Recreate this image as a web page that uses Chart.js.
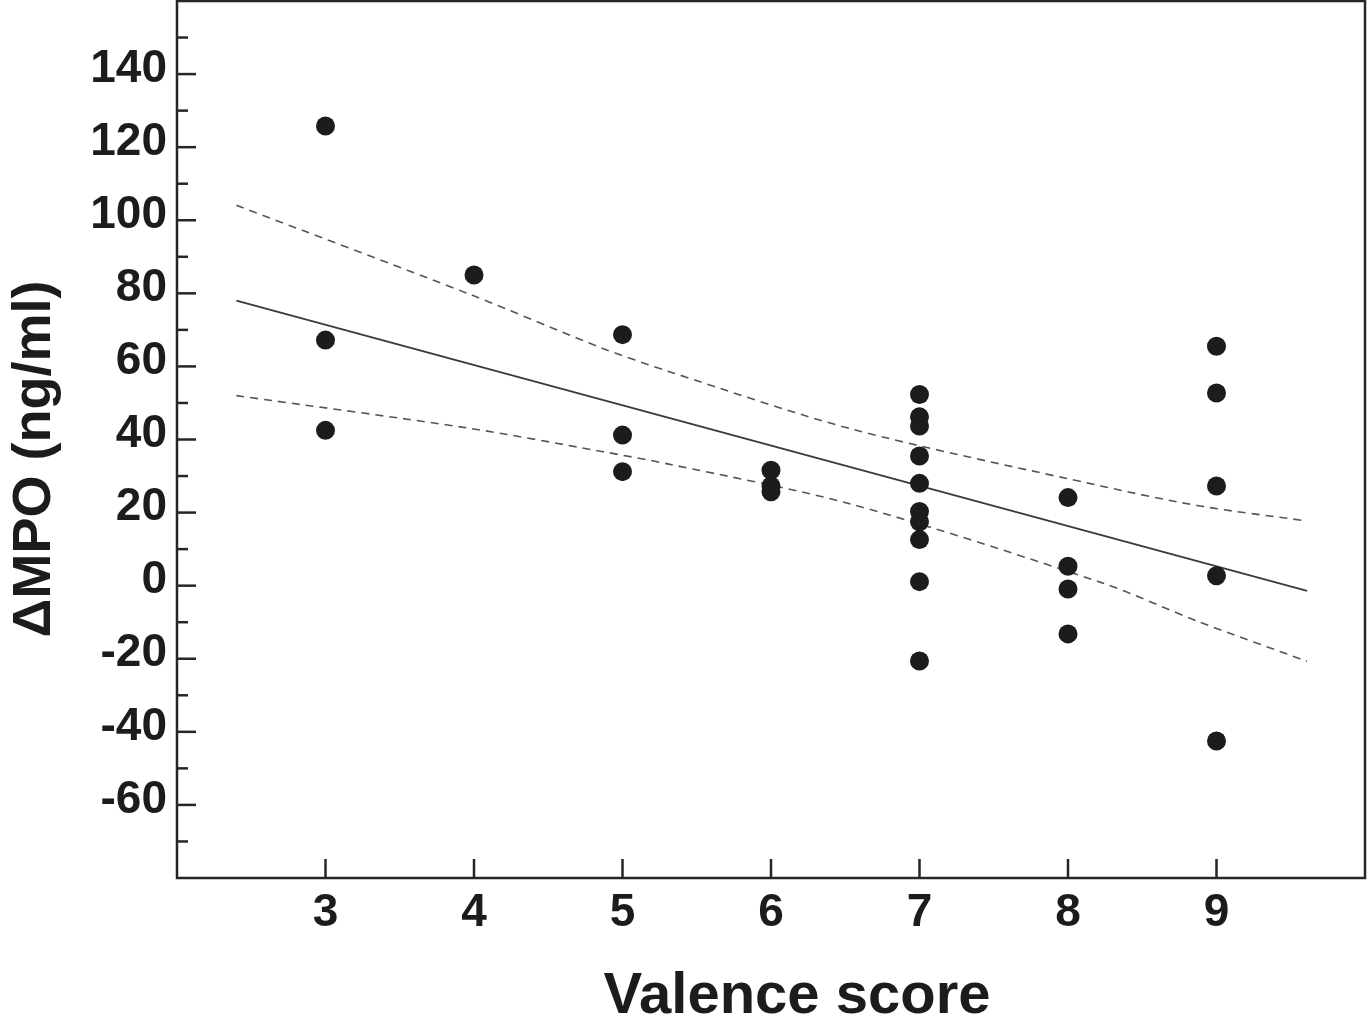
<!DOCTYPE html>
<html>
<head>
<meta charset="utf-8">
<title>ΔMPO vs Valence score</title>
<script src="https://cdn.jsdelivr.net/npm/chart.js@4"></script>
<style>
  html, body { margin: 0; padding: 0; background: #fff; overflow: hidden; }
  #wrap { width: 1368px; height: 1023px; }
</style>
</head>
<body>
<div id="wrap"><canvas id="mpoChart"></canvas></div>
<script>
// valence score of each subject and its ΔMPO (ng/ml)
const valence = [3, 3, 3, 4, 5, 5, 5, 6, 6, 6,
  7, 7, 7, 7, 7, 7, 7, 7, 7, 7,
  8, 8, 8, 8, 9, 9, 9, 9, 9];
const deltaMPO = [125.8, 67.2, 42.5, 85.0, 68.7, 41.2, 31.2, 31.6, 27.3, 25.7,
  52.3, 46.2, 43.7, 35.5, 28.0, 20.3, 17.5, 12.6, 1.1, -20.6,
  24.1, 5.3, -0.9, -13.2, 65.5, 52.7, 27.3, 2.7, -42.5];

// regression line and its 95% band
const fitX = [2.4, 9.61];
const fitY = [78.0, -1.4];
const bandX = [2.4, 3.98, 4.85, 5.32, 6.54, 8.22, 8.89, 9.61];
const upperY = [104.1, 79.6, 65.2, 58.5, 42.9, 27.3, 21.8, 17.7];
const lowerY = [52.0, 43.0, 36.8, 33.2, 22.3, 0.9, -10.0, -20.7];

const xTickLabels = [3, 4, 5, 6, 7, 8, 9];
const yTickLabels = [-60, -40, -20, 0, 20, 40, 60, 80, 100, 120, 140];

const ink = '#1c1c1c';
const toPoints = (xs, ys) => xs.map((x, i) => ({ x: x, y: ys[i] }));

// frame, inward ticks and axis titles
const framePlugin = {
  id: 'frame',
  afterDraw(chart) {
    const ctx = chart.ctx;
    const area = chart.chartArea;
    const xs = chart.scales.x;
    const ys = chart.scales.y;
    ctx.save();
    ctx.strokeStyle = '#262626';
    ctx.lineWidth = 2.5;
    ctx.strokeRect(area.left, area.top, area.right - area.left, area.bottom - area.top);

    ys.ticks.forEach(t => {
      if (t.value <= ys.min || t.value >= ys.max) return;
      const py = ys.getPixelForValue(t.value);
      const len = t.value % 20 === 0 ? 19 : 11;
      ctx.beginPath();
      ctx.moveTo(area.left, py);
      ctx.lineTo(area.left + len, py);
      ctx.stroke();
    });
    xTickLabels.forEach(v => {
      const px = xs.getPixelForValue(v);
      ctx.beginPath();
      ctx.moveTo(px, area.bottom);
      ctx.lineTo(px, area.bottom - 19);
      ctx.stroke();
    });

    ctx.fillStyle = ink;
    ctx.textAlign = 'center';
    ctx.textBaseline = 'alphabetic';
    ctx.font = 'bold 58px "Liberation Sans", Arial, sans-serif';
    ctx.fillText('Valence score', 797, 1013);

    ctx.translate(50, 459);
    ctx.rotate(-Math.PI / 2);
    ctx.font = 'bold 54px "Liberation Sans", Arial, sans-serif';
    ctx.fillText('ΔMPO (ng/ml)', 0, 0);
    ctx.restore();
  }
};

new Chart(document.getElementById('mpoChart'), {
  type: 'scatter',
  data: {
    datasets: [
      {
        label: 'ΔMPO',
        data: toPoints(valence, deltaMPO),
        pointRadius: 9.5,
        pointBackgroundColor: ink,
        pointBorderWidth: 0,
        showLine: false
      },
      {
        label: 'fit',
        data: toPoints(fitX, fitY),
        showLine: true,
        borderColor: '#3a3a3a',
        borderWidth: 1.8,
        pointRadius: 0
      },
      {
        label: 'upper',
        data: toPoints(bandX, upperY),
        showLine: true,
        tension: 0.3,
        borderColor: '#555',
        borderWidth: 1.6,
        borderDash: [8, 6],
        pointRadius: 0
      },
      {
        label: 'lower',
        data: toPoints(bandX, lowerY),
        showLine: true,
        tension: 0.3,
        borderColor: '#555',
        borderWidth: 1.6,
        borderDash: [8, 6],
        pointRadius: 0
      }
    ]
  },
  options: {
    responsive: true,
    maintainAspectRatio: false,
    animation: false,
    layout: { autoPadding: false, padding: { top: 1, right: 3, left: 0, bottom: 0 } },
    plugins: {
      legend: { display: false },
      tooltip: { enabled: false }
    },
    scales: {
      x: {
        type: 'linear',
        min: 2,
        max: 10,
        border: { display: false },
        grid: { drawOnChartArea: false, drawTicks: false },
        ticks: {
          stepSize: 1,
          autoSkip: false,
          maxRotation: 0,
          padding: 12,
          color: ink,
          font: { family: '"Liberation Sans", Arial, sans-serif', size: 46, weight: 'bold', lineHeight: 1 },
          callback: v => xTickLabels.includes(v) ? String(v) : ''
        },
        afterFit: s => {
          s.height = 145;
          s.paddingLeft = 0;
          s.paddingRight = 0;
        }
      },
      y: {
        min: -80,
        max: 160,
        border: { display: false },
        grid: { drawOnChartArea: false, drawTicks: false },
        ticks: {
          stepSize: 10,
          autoSkip: false,
          padding: 10,
          labelOffset: -5,
          color: ink,
          font: { family: '"Liberation Sans", Arial, sans-serif', size: 46, weight: 'bold', lineHeight: 1 },
          callback: v => yTickLabels.includes(v) ? String(v) : ''
        },
        afterFit: s => {
          s.width = 177;
          s.paddingTop = 0;
          s.paddingBottom = 0;
        }
      }
    }
  },
  plugins: [framePlugin]
});
</script>
</body>
</html>
